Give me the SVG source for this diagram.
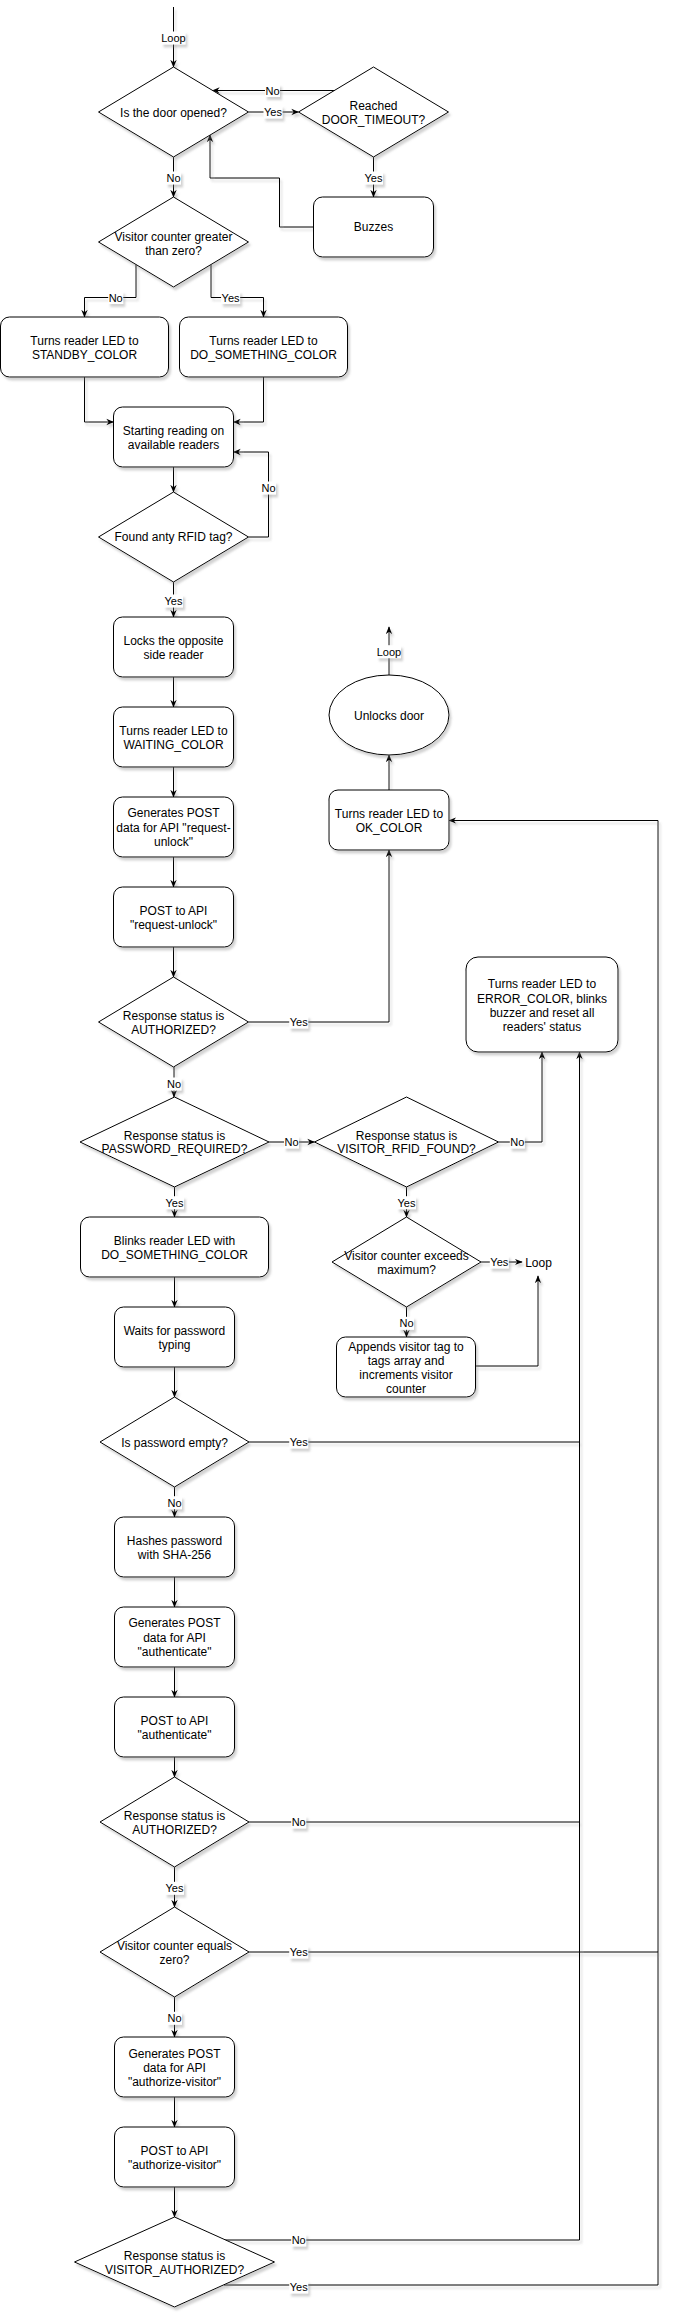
<svg xmlns="http://www.w3.org/2000/svg" width="675" height="2314" viewBox="0 0 675 2314">
<style>
.n{fill:#fff;stroke:#000;stroke-width:1}
.t{font-family:"Liberation Sans",Arial,sans-serif;font-size:12px;text-anchor:middle;fill:#000}
.c{fill:none;stroke:#000;stroke-width:1}
.a{marker-end:url(#arr)}
.lb{fill:#fff}
.lt{font-family:"Liberation Sans",Arial,sans-serif;font-size:11px;text-anchor:middle;fill:#000}
</style>
<defs>
<filter id="sh" filterUnits="userSpaceOnUse" x="0" y="0" width="675" height="2314">
<feDropShadow dx="2" dy="3" stdDeviation="1.2" flood-color="#808080" flood-opacity="0.35"/>
</filter>
<marker id="arr" viewBox="0 0 10 10" refX="9" refY="5" markerWidth="8" markerHeight="8" markerUnits="userSpaceOnUse" orient="auto">
<path d="M0,1 L10,5 L0,9 L3,5 Z" fill="#000"/>
</marker>
</defs>
<rect width="675" height="2314" fill="#fff"/>

<g id="connectors">
<g filter="url(#sh)">
<path class="c a" d="M173.5,7 V67"/>
<path class="c a" d="M248.5,112 H298.5"/>
<path class="c a" d="M334.5,90.5 H212.5"/>
<path class="c a" d="M173.5,157 V197"/>
<path class="c a" d="M373.5,157 V197"/>
<path class="c a" d="M313.5,227 H279.5 V178 H210 V135"/>
<path class="c a" d="M136,264.5 V297.5 H84.5 V317"/>
<path class="c a" d="M211,264.5 V297.5 H263.5 V317"/>
<path class="c a" d="M84.5,377 V422 H113.5"/>
<path class="c a" d="M263.5,377 V422 H233.5"/>
<path class="c a" d="M173.5,467 V492"/>
<path class="c a" d="M248.5,537 H268.5 V452 H233.5"/>
<path class="c a" d="M173.5,582 V617"/>
<path class="c a" d="M173.5,677 V707"/>
<path class="c a" d="M173.5,767 V797"/>
<path class="c a" d="M173.5,857 V887"/>
<path class="c a" d="M173.5,947 V977"/>
<path class="c a" d="M248.5,1022 H389 V850"/>
<path class="c a" d="M389,790 V755"/>
<path class="c a" d="M389,675 V627"/>
<path class="c a" d="M174,1067 V1097"/>
<path class="c a" d="M269,1142 H314.5"/>
<path class="c a" d="M498.5,1142 H542 V1052"/>
<path class="c a" d="M174.5,1187 V1217"/>
<path class="c a" d="M406.5,1187 V1217"/>
<path class="c a" d="M174.5,1277 V1307"/>
<path class="c a" d="M481,1262 H522"/>
<path class="c a" d="M406.5,1307 V1337"/>
<path class="c a" d="M475.5,1366 H538 V1276"/>
<path class="c a" d="M174.5,1367 V1397"/>
<path class="c" d="M249,1442 H579.5"/>
<path class="c a" d="M174.5,1487 V1517"/>
<path class="c a" d="M174.5,1577 V1607"/>
<path class="c a" d="M174.5,1667 V1697"/>
<path class="c a" d="M174.5,1757 V1777"/>
<path class="c" d="M249,1822 H579.5"/>
<path class="c a" d="M174.5,1867 V1907"/>
<path class="c" d="M249,1952 H658"/>
<path class="c a" d="M174.5,1997 V2037"/>
<path class="c a" d="M174.5,2097 V2127"/>
<path class="c a" d="M174.5,2187 V2217"/>
<path class="c a" d="M225,2240 H579.5 V1052"/>
<path class="c a" d="M224,2285 H658 V820.5 H449"/>
</g>
<g id="edge-labels">
<g filter="url(#sh)">
<rect class="lb" x="161.5" y="31.5" width="24" height="13"/>
<rect class="lb" x="263.5" y="105.5" width="19" height="13"/>
<rect class="lb" x="265" y="84" width="15" height="13"/>
<rect class="lb" x="166" y="171.5" width="15" height="13"/>
<rect class="lb" x="364" y="171.5" width="19" height="13"/>
<rect class="lb" x="108.2" y="291" width="15" height="13"/>
<rect class="lb" x="221.1" y="291" width="19" height="13"/>
<rect class="lb" x="261" y="481.5" width="15" height="13"/>
<rect class="lb" x="164" y="594.5" width="19" height="13"/>
<rect class="lb" x="377" y="645.2" width="24" height="13"/>
<rect class="lb" x="289.2" y="1015.5" width="19" height="13"/>
<rect class="lb" x="166.5" y="1077.5" width="15" height="13"/>
<rect class="lb" x="284" y="1135.5" width="15" height="13"/>
<rect class="lb" x="509.8" y="1135.5" width="15" height="13"/>
<rect class="lb" x="165" y="1196.2" width="19" height="13"/>
<rect class="lb" x="397" y="1196.2" width="19" height="13"/>
<rect class="lb" x="489.8" y="1255.5" width="19" height="13"/>
<rect class="lb" x="399" y="1316.8" width="15" height="13"/>
<rect class="lb" x="289.2" y="1435.5" width="19" height="13"/>
<rect class="lb" x="167" y="1496.2" width="15" height="13"/>
<rect class="lb" x="291.2" y="1815.5" width="15" height="13"/>
<rect class="lb" x="165" y="1881.8" width="19" height="13"/>
<rect class="lb" x="289.2" y="1945.5" width="19" height="13"/>
<rect class="lb" x="167" y="2011.8" width="15" height="13"/>
<rect class="lb" x="291.2" y="2233.5" width="15" height="13"/>
<rect class="lb" x="289.2" y="2280.5" width="19" height="13"/>
</g>
<text class="lt" x="173.5" y="42">Loop</text>
<text class="lt" x="273" y="116">Yes</text>
<text class="lt" x="272.5" y="94.5">No</text>
<text class="lt" x="173.5" y="182">No</text>
<text class="lt" x="373.5" y="182">Yes</text>
<text class="lt" x="115.7" y="301.5">No</text>
<text class="lt" x="230.6" y="301.5">Yes</text>
<text class="lt" x="268.5" y="492">No</text>
<text class="lt" x="173.5" y="605">Yes</text>
<text class="lt" x="389" y="655.7">Loop</text>
<text class="lt" x="298.7" y="1026">Yes</text>
<text class="lt" x="174" y="1088">No</text>
<text class="lt" x="291.5" y="1146">No</text>
<text class="lt" x="517.3" y="1146">No</text>
<text class="lt" x="174.5" y="1206.7">Yes</text>
<text class="lt" x="406.5" y="1206.7">Yes</text>
<text class="lt" x="499.3" y="1266">Yes</text>
<text class="lt" x="406.5" y="1327.3">No</text>
<text class="lt" x="298.7" y="1446">Yes</text>
<text class="lt" x="174.5" y="1506.7">No</text>
<text class="lt" x="298.7" y="1826">No</text>
<text class="lt" x="174.5" y="1892.3">Yes</text>
<text class="lt" x="298.7" y="1956">Yes</text>
<text class="lt" x="174.5" y="2022.3">No</text>
<text class="lt" x="298.7" y="2244">No</text>
<text class="lt" x="298.7" y="2291">Yes</text>
</g>
</g>

<g id="d_door"><polygon class="n" filter="url(#sh)" points="173.5,67 248.5,112 173.5,157 98.5,112"/><text class="t" x="173.5" y="116.5">Is the door opened?</text></g>
<g id="d_timeout"><polygon class="n" filter="url(#sh)" points="373.5,67 448.5,112 373.5,157 298.5,112"/><text class="t" x="373.5" y="110">Reached</text><text class="t" x="373.5" y="124">DOOR_TIMEOUT?</text></g>
<g id="buzzes"><rect class="n" filter="url(#sh)" x="313.5" y="197" width="120" height="60" rx="9"/><text class="t" x="373.5" y="231">Buzzes</text></g>
<g id="d_visitor_gt"><polygon class="n" filter="url(#sh)" points="173.5,197 248.5,242 173.5,287 98.5,242"/><text class="t" x="173.5" y="240.7">Visitor counter greater</text><text class="t" x="173.5" y="254.5">than zero?</text></g>
<g id="standby"><rect class="n" filter="url(#sh)" x="0.5" y="317" width="168" height="60" rx="9"/><text class="t" x="84.5" y="344.7">Turns reader LED to</text><text class="t" x="84.5" y="358.7">STANDBY_COLOR</text></g>
<g id="do_something"><rect class="n" filter="url(#sh)" x="179.5" y="317" width="168" height="60" rx="9"/><text class="t" x="263.5" y="344.7">Turns reader LED to</text><text class="t" x="263.5" y="358.7">DO_SOMETHING_COLOR</text></g>
<g id="start_reading"><rect class="n" filter="url(#sh)" x="113.5" y="407" width="120" height="60" rx="9"/><text class="t" x="173.5" y="434.7">Starting reading on</text><text class="t" x="173.5" y="448.5">available readers</text></g>
<g id="d_rfid"><polygon class="n" filter="url(#sh)" points="173.5,492 248.5,537 173.5,582 98.5,537"/><text class="t" x="173.5" y="541.3">Found anty RFID tag?</text></g>
<g id="locks"><rect class="n" filter="url(#sh)" x="113.5" y="617" width="120" height="60" rx="9"/><text class="t" x="173.5" y="644.7">Locks the opposite</text><text class="t" x="173.5" y="658.7">side reader</text></g>
<g id="waiting"><rect class="n" filter="url(#sh)" x="113.5" y="707" width="120" height="60" rx="9"/><text class="t" x="173.5" y="734.7">Turns reader LED to</text><text class="t" x="173.5" y="748.7">WAITING_COLOR</text></g>
<g id="gen_unlock"><rect class="n" filter="url(#sh)" x="113.5" y="797" width="120" height="60" rx="9"/><text class="t" x="173.5" y="817.3">Generates POST</text><text class="t" x="173.5" y="831.5">data for API "request-</text><text class="t" x="173.5" y="845.7">unlock"</text></g>
<g id="post_unlock"><rect class="n" filter="url(#sh)" x="113.5" y="887" width="120" height="60" rx="9"/><text class="t" x="173.5" y="914.7">POST to API</text><text class="t" x="173.5" y="928.7">"request-unlock"</text></g>
<g id="d_auth1"><polygon class="n" filter="url(#sh)" points="173.5,977 248.5,1022 173.5,1067 98.5,1022"/><text class="t" x="173.5" y="1019.7">Response status is</text><text class="t" x="173.5" y="1033.5">AUTHORIZED?</text></g>
<g id="unlocks"><ellipse class="n" filter="url(#sh)" cx="389" cy="715" rx="60" ry="40"/><text class="t" x="389" y="719.7">Unlocks door</text></g>
<g id="ok_color"><rect class="n" filter="url(#sh)" x="329" y="790" width="120" height="60" rx="9"/><text class="t" x="389" y="818">Turns reader LED to</text><text class="t" x="389" y="831.8">OK_COLOR</text></g>
<g id="error"><rect class="n" filter="url(#sh)" x="466" y="957" width="152" height="95" rx="12"/><text class="t" x="542" y="988.3">Turns reader LED to</text><text class="t" x="542" y="1002.5">ERROR_COLOR, blinks</text><text class="t" x="542" y="1016.7">buzzer and reset all</text><text class="t" x="542" y="1030.8">readers' status</text></g>
<g id="d_pwreq"><polygon class="n" filter="url(#sh)" points="174.5,1097 269,1142 174.5,1187 80,1142"/><text class="t" x="174.5" y="1139.7">Response status is</text><text class="t" x="174.5" y="1153.3">PASSWORD_REQUIRED?</text></g>
<g id="d_rfidfound"><polygon class="n" filter="url(#sh)" points="406.5,1097 498.5,1142 406.5,1187 314.5,1142"/><text class="t" x="406.5" y="1139.7">Response status is</text><text class="t" x="406.5" y="1153.3">VISITOR_RFID_FOUND?</text></g>
<g id="blinks"><rect class="n" filter="url(#sh)" x="80.5" y="1217" width="188" height="60" rx="9"/><text class="t" x="174.5" y="1244.7">Blinks reader LED with</text><text class="t" x="174.5" y="1258.7">DO_SOMETHING_COLOR</text></g>
<g id="waits"><rect class="n" filter="url(#sh)" x="114.5" y="1307" width="120" height="60" rx="9"/><text class="t" x="174.5" y="1334.7">Waits for password</text><text class="t" x="174.5" y="1348.7">typing</text></g>
<g id="d_exceeds"><polygon class="n" filter="url(#sh)" points="406.5,1217 481,1262 406.5,1307 332,1262"/><text class="t" x="406.5" y="1260">Visitor counter exceeds</text><text class="t" x="406.5" y="1273.5">maximum?</text></g>
<g id="loop_text"><text class="t" x="538.5" y="1266.7">Loop</text></g>
<g id="append"><rect class="n" filter="url(#sh)" x="336.5" y="1337" width="139" height="60" rx="9"/><text class="t" x="406" y="1350.5">Appends visitor tag to</text><text class="t" x="406" y="1364.5">tags array and</text><text class="t" x="406" y="1378.5">increments visitor</text><text class="t" x="406" y="1392.5">counter</text></g>
<g id="d_pwempty"><polygon class="n" filter="url(#sh)" points="174.5,1397 249,1442 174.5,1487 100,1442"/><text class="t" x="174.5" y="1446.7">Is password empty?</text></g>
<g id="hashes"><rect class="n" filter="url(#sh)" x="114.5" y="1517" width="120" height="60" rx="9"/><text class="t" x="174.5" y="1544.7">Hashes password</text><text class="t" x="174.5" y="1558.5">with SHA-256</text></g>
<g id="gen_auth"><rect class="n" filter="url(#sh)" x="114.5" y="1607" width="120" height="60" rx="9"/><text class="t" x="174.5" y="1627.3">Generates POST</text><text class="t" x="174.5" y="1641.5">data for API</text><text class="t" x="174.5" y="1655.7">"authenticate"</text></g>
<g id="post_auth"><rect class="n" filter="url(#sh)" x="114.5" y="1697" width="120" height="60" rx="9"/><text class="t" x="174.5" y="1724.7">POST to API</text><text class="t" x="174.5" y="1738.7">"authenticate"</text></g>
<g id="d_auth2"><polygon class="n" filter="url(#sh)" points="174.5,1777 249,1822 174.5,1867 100,1822"/><text class="t" x="174.5" y="1819.7">Response status is</text><text class="t" x="174.5" y="1833.7">AUTHORIZED?</text></g>
<g id="d_vzero"><polygon class="n" filter="url(#sh)" points="174.5,1907 249,1952 174.5,1997 100,1952"/><text class="t" x="174.5" y="1949.7">Visitor counter equals</text><text class="t" x="174.5" y="1964">zero?</text></g>
<g id="gen_av"><rect class="n" filter="url(#sh)" x="114.5" y="2037" width="120" height="60" rx="9"/><text class="t" x="174.5" y="2058">Generates POST</text><text class="t" x="174.5" y="2072">data for API</text><text class="t" x="174.5" y="2086">"authorize-visitor"</text></g>
<g id="post_av"><rect class="n" filter="url(#sh)" x="114.5" y="2127" width="120" height="60" rx="9"/><text class="t" x="174.5" y="2155">POST to API</text><text class="t" x="174.5" y="2169">"authorize-visitor"</text></g>
<g id="d_vauth"><polygon class="n" filter="url(#sh)" points="174.5,2217 274.5,2262 174.5,2307 74.5,2262"/><text class="t" x="174.5" y="2259.7">Response status is</text><text class="t" x="174.5" y="2274">VISITOR_AUTHORIZED?</text></g>
</svg>
